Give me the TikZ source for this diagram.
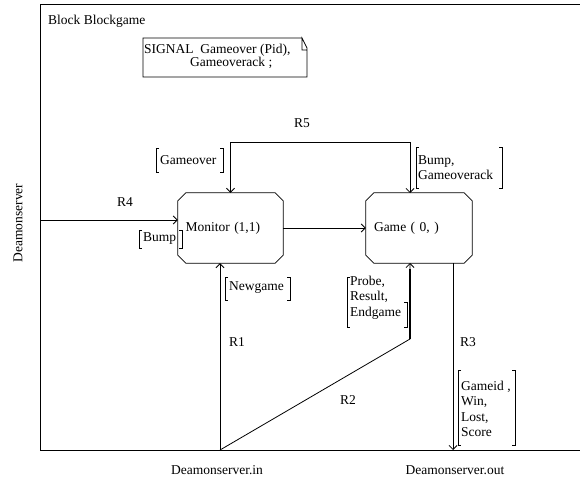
\documentclass[tikz,border=0pt]{standalone}
\usepackage{fontspec}
\setmainfont{Liberation Serif}
\usetikzlibrary{arrows.meta,calc}
\newcommand\brl[3]{\draw[ln] (#1+3,#2) -- (#1,#2) -- (#1,#3) -- (#1+3,#3);}
\newcommand\brr[3]{\draw[ln] (#1-3,#2) -- (#1,#2) -- (#1,#3) -- (#1-3,#3);}
\newcommand\octo[1]{\draw[ln] ($(#1.north west)+(8,0)$) -- ($(#1.north east)+(-8,0)$) -- ($(#1.north east)+(0,8)$) -- ($(#1.south east)+(0,-8)$) -- ($(#1.south east)+(-8,0)$) -- ($(#1.south west)+(8,0)$) -- ($(#1.south west)+(0,-8)$) -- ($(#1.north west)+(0,8)$) -- cycle;}
\begin{document}
\begin{tikzpicture}[x=1pt,y=-1pt,
  every node/.style={font=\fontsize{13.5}{15.5}\selectfont, inner sep=0pt},
  ln/.style={line width=0.8pt},
  >={Straight Barb[length=4pt,width=8pt]},
  proc/.style={minimum width=105pt, minimum height=70pt, text width=90pt, align=left},
  txt/.style={anchor=west, align=left}]
\useasboundingbox (0,0) rectangle (580,479);
% frame
\draw[ln] (580,4) -- (40,4) -- (40,450) -- (580,450);
\node[txt] (title) at (48,21) {Block Blockgame};
% text symbol
\draw[ln] (302,38) -- (143,38) -- (143,77) -- (307,77) -- (307,48) -- (302,38) -- (302,50) -- (307,50);
\node[txt] (sig1) at (144,50) {SIGNAL\ \ Gameover (Pid),};
\node[txt] (sig2) at (190,63) {Gameoverack ;};
% processes
\node[proc, inner xsep=7pt] (mon) at (230.5,228) {Monitor (1,1)};
\octo{mon}
\node[proc, inner xsep=8pt, minimum width=104pt] (game) at (419,228) {Game ( 0, )};
\octo{game}
% coordinates
\coordinate (denv) at (40,220);
\coordinate (din) at (220,450);
\coordinate (dout) at (453,450);
\coordinate (g5) at (410,193);
\coordinate (g2) at (410,263);
\coordinate (g3) at (453,263);
\coordinate (r2b) at (410,339);
% channels
\draw[ln,->] (denv) -- (mon.west |- denv);
\draw[ln,->] (mon.east) -- (game.west);
\draw[ln,<->] (mon.north) -- ++(0,-50) -| (g5);
\draw[ln,->] (din) -- (din |- mon.south);
\draw[ln,->] (din) -- (r2b) -- (g2);
\draw[line width=1.6pt] (r2b) -- ($(g2)+(0,6)$);
\draw[ln,->] (g3) -- (dout);
% channel names
\node (r5) at (302,123) {R5};
\node (r4) at (125,202) {R4};
\node (r1) at (237,342) {R1};
\node (r2) at (348,400) {R2};
\node (r3) at (468,342) {R3};
% signal lists
\node[txt] (sgo) at (160,160) {Gameover};
\brl{156}{148}{172} \brr{223}{148}{172}
\node[txt] (sbg) at (418,167.5) {Bump,\\Gameoverack};
\brl{416}{147}{188} \brr{502}{147}{188}
\node[txt] (sbump) at (143,239) {Bump};
\brl{139}{230}{248} \brr{182}{230}{248}
\node[txt] (sng) at (229,288) {Newgame};
\brl{225}{277}{300} \brr{290}{277}{300}
\node[txt] (spre) at (350,297.5) {Probe,\\Result,\\Endgame};
\brl{347}{277}{327} \brr{407}{302}{327}
\node[txt] (sgw) at (461,409) {Gameid ,\\Win,\\Lost,\\Score};
\brl{458}{370}{445} \brr{515}{370}{445}
% environment names
\node (lin) at (217,470) {Deamonserver.in};
\node (lout) at (455,470) {Deamonserver.out};
\node[rotate=90] (lenv) at (18,223) {Deamonserver};
\end{tikzpicture}
\end{document}
